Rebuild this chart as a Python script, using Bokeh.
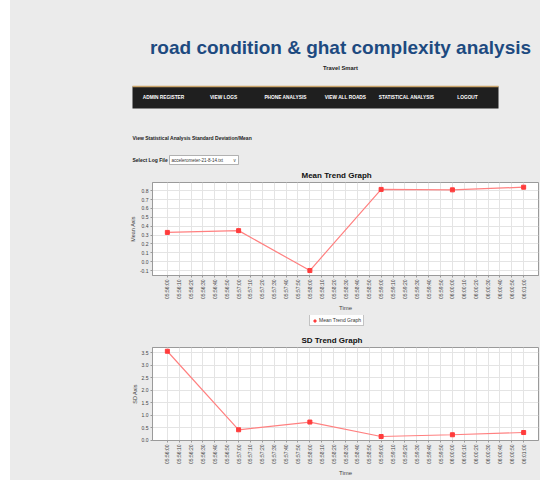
import math
from bokeh.plotting import figure
from bokeh.layouts import column, row
from bokeh.models import (Range1d, FactorRange, Legend, LegendItem, NumeralTickFormatter,
                          FixedTicker, ColumnDataSource, Spacer)
from bokeh.core.properties import value
from bokeh.embed import file_html
from bokeh.resources import INLINE

# ---------------- data ----------------
page_title = "road condition & ghat complexity analysis"
subtitle = "Travel Smart"
nav_items = ["ADMIN REGISTER", "VIEW LOGS", "PHONE ANALYSIS", "VIEW ALL ROADS",
             "STATISTICAL ANALYSIS", "LOGOUT"]
section_heading = "View Statistical Analysis Standard Deviation/Mean"
select_label = "Select Log File"
log_file = "accelerometer-21-8-14.txt"

time_labels = ["05:56:00", "05:56:10", "05:56:20", "05:56:30", "05:56:40", "05:56:50",
               "05:57:00", "05:57:10", "05:57:20", "05:57:30", "05:57:40", "05:57:50",
               "05:58:00", "05:58:10", "05:58:20", "05:58:30", "05:58:40", "05:58:50",
               "05:59:00", "05:59:10", "05:59:20", "05:59:30", "05:59:40", "05:59:50",
               "06:00:00", "06:00:10", "06:00:20", "06:00:30", "06:00:40", "06:00:50",
               "06:01:00"]
sample_times = ["05:56:00", "05:57:00", "05:58:00", "05:59:00", "06:00:00", "06:01:00"]
mean_values = [0.33, 0.35, -0.10, 0.815, 0.81, 0.84]
sd_values = [3.56, 0.41, 0.72, 0.14, 0.21, 0.30]
mean_ticks = [-0.1, 0.0, 0.1, 0.2, 0.3, 0.4, 0.5, 0.6, 0.7, 0.8]
sd_ticks = [0.0, 0.5, 1.0, 1.5, 2.0, 2.5, 3.0, 3.5]

# ---------------- style ----------------
BG = "#ebebeb"
SANS = "Liberation Sans"
W = 530
LINE_C = "#ff8080"
MARK_C = "#ff3c3c"

# ---------------- header ----------------
hdr = figure(width=W, height=160, x_range=Range1d(10, 540), y_range=Range1d(165, 5),
             output_backend="svg", toolbar_location=None, min_border=0,
             x_axis_location=None, y_axis_location=None,
             background_fill_color=BG, border_fill_color=BG, outline_line_color=None)
hdr.frame_align = False
hdr.grid.visible = False

hdr.text(x=[340], y=[47], text=[page_title], text_font=value(SANS), text_font_size="19px",
         text_font_style="bold", text_color="#1d4a80", text_align="center",
         text_baseline="alphabetic")
hdr.text(x=[340], y=[67], text=[subtitle], text_font=value(SANS), text_font_size="5.8px",
         text_font_style="bold", text_color="#222222", text_align="center",
         text_baseline="middle")

hdr.quad(left=[132], right=[498], top=[86], bottom=[108], fill_color="#1f1f1f",
         line_color=None)
hdr.segment(x0=[132], y0=[86], x1=[498], y1=[86], line_color="#c9a46a", line_width=1.5)
hdr.text(x=[163, 223, 285, 345, 406, 467], y=[97] * 6, text=nav_items,
         text_font=value(SANS), text_font_size="4.8px", text_font_style="bold",
         text_color="white", text_align="center", text_baseline="middle")

hdr.text(x=[132], y=[137], text=[section_heading], text_font=value(SANS),
         text_font_size="5px", text_font_style="bold", text_color="#222222",
         text_align="left", text_baseline="middle")
hdr.text(x=[132], y=[159.5], text=[select_label], text_font=value(SANS),
         text_font_size="5px", text_font_style="bold", text_color="#222222",
         text_align="left", text_baseline="middle")
hdr.quad(left=[169], right=[238], top=[155], bottom=[164], fill_color="white",
         line_color="#a0a0a0", line_width=0.8)
hdr.text(x=[171], y=[159.5], text=[log_file], text_font=value(SANS), text_font_size="4.5px",
         text_color="#333333", text_align="left", text_baseline="middle")
hdr.text(x=[234], y=[159.5], text=["v"], text_font=value(SANS), text_font_size="4.5px",
         text_color="#333333", text_align="center", text_baseline="middle")


# ---------------- charts ----------------
def trend_chart(title, values, ticks, y_start, y_end, axis_label, height, bottom):
    p = figure(width=W, height=height,
               x_range=FactorRange(factors=time_labels, range_padding=0.75,
                                   range_padding_units="absolute"),
               y_range=Range1d(y_start, y_end), title=title,
               output_backend="svg", toolbar_location=None,
               min_border_left=142, min_border_right=2, min_border_top=16,
               min_border_bottom=bottom,
               background_fill_color="white", border_fill_color=BG,
               outline_line_color="#9a9a9a")
    p.frame_align = False
    p.title.text_font = SANS
    p.title.text_font_size = "8px"
    p.title.text_font_style = "bold"
    p.title.text_color = "#111111"
    p.title.align = "left"
    p.title.offset = 149
    p.title.standoff = 6

    for ax in (p.xaxis[0], p.yaxis[0]):
        ax.axis_line_color = "#9a9a9a"
        ax.major_tick_line_color = "#9a9a9a"
        ax.major_tick_out = 2
        ax.major_tick_in = 0
        ax.minor_tick_line_color = None
        ax.major_label_text_font = SANS
        ax.major_label_text_font_size = "5px"
        ax.major_label_text_color = "#444444"
        ax.major_label_standoff = 2
        ax.axis_label_text_font = SANS
        ax.axis_label_text_font_style = "normal"
        ax.axis_label_text_color = "#444444"
        ax.axis_label_standoff = 3

    p.yaxis.ticker = FixedTicker(ticks=ticks)
    p.yaxis.formatter = NumeralTickFormatter(format="0.0")
    p.yaxis.axis_label = axis_label
    p.yaxis.axis_label_text_font_size = "5.5px"
    p.yaxis.axis_label_standoff = 1
    p.xaxis.major_label_orientation = math.pi / 2
    p.xaxis.axis_label = "Time"
    p.xaxis.axis_label_text_font_size = "6px"

    p.xgrid.grid_line_color = "#e4e4e4"
    p.ygrid.grid_line_color = "#e4e4e4"

    src = ColumnDataSource(dict(t=sample_times, v=values))
    p.line("t", "v", source=src, line_color=LINE_C, line_width=1.2)
    p.scatter("t", "v", source=src, marker="square", size=4,
              fill_color=MARK_C, line_color=MARK_C)
    return p


def legend_strip(title, values, height, legend_left, legend_bottom):
    # a thin strip holding the series legend below a chart
    lp = figure(width=W, height=height, x_range=FactorRange(factors=time_labels),
                y_range=Range1d(100, 101), output_backend="svg", toolbar_location=None,
                min_border=0, x_axis_location=None, y_axis_location=None,
                background_fill_color=BG, border_fill_color=BG, outline_line_color=None)
    lp.frame_align = False
    lp.grid.visible = False
    src = ColumnDataSource(dict(t=sample_times, v=values))
    r = lp.scatter("t", "v", source=src, marker="square", size=4,
                   fill_color=MARK_C, line_color=MARK_C)
    leg = Legend(items=[LegendItem(label=title, renderers=[r])],
                 location=(legend_left, legend_bottom), orientation="horizontal",
                 label_text_font=SANS, label_text_font_size="5px",
                 label_text_color="#333333", glyph_width=5, glyph_height=5,
                 label_standoff=2, padding=2, margin=0, label_height=5,
                 border_line_color="#888888", background_fill_color="white")
    lp.add_layout(leg, "center")
    return lp


mean_p = trend_chart("Mean Trend Graph", mean_values, mean_ticks, -0.156, 0.893,
                     "Mean Axis", 150, 40)
mean_leg = legend_strip("Mean Trend Graph", mean_values, 15, 299, 4)
sd_p = trend_chart("SD Trend Graph", sd_values, sd_ticks, -0.02, 3.71,
                   "SD Axis", 150, 40)

page = column(Spacer(width=W, height=5), hdr, mean_p, mean_leg, sd_p, spacing=0,
              styles={"background-color": BG})
layout = row(Spacer(width=10, height=480), page, spacing=0)
open("out.html", "w").write(file_html(layout, INLINE))
